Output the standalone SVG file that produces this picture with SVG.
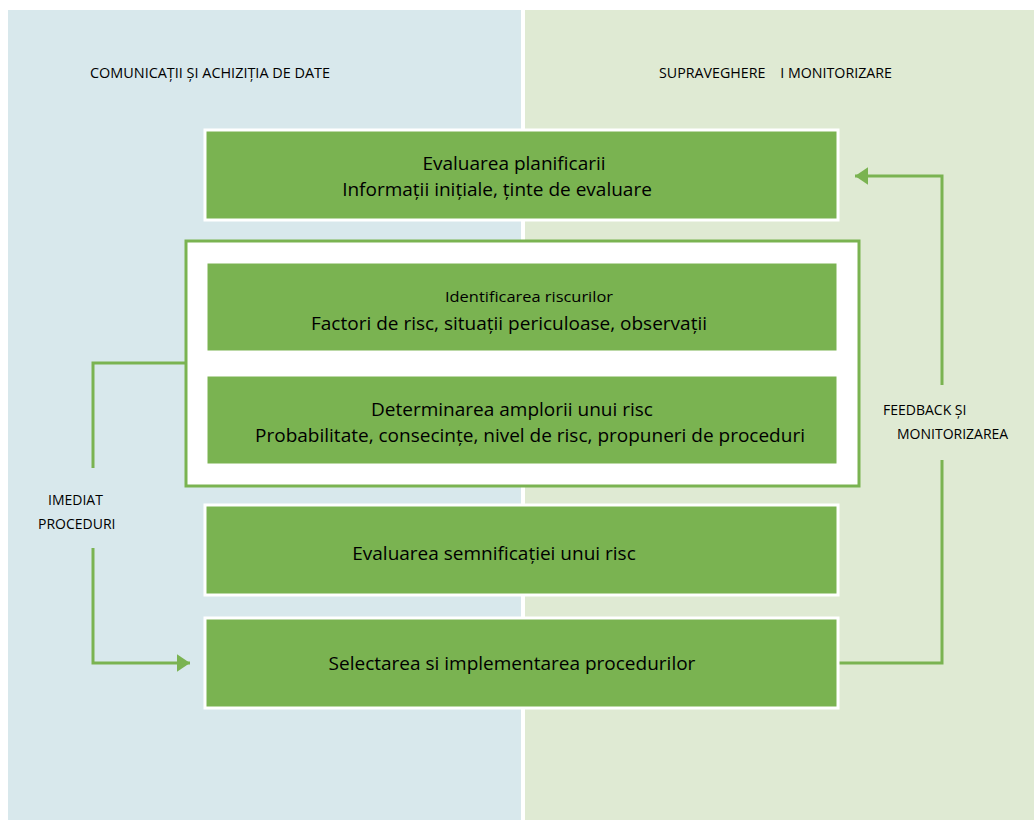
<svg xmlns="http://www.w3.org/2000/svg" width="1034" height="820" viewBox="0 0 1034 820">
<style>
.box{fill:#7ab351;stroke:#ffffff;stroke-width:3}
.t{font-family:"Open Sans","Noto Sans",sans-serif;fill:#000;text-anchor:middle}
.b{font-size:19px}
.s{font-size:14px}
.lbl{font-family:"Open Sans","Noto Sans",sans-serif;fill:#000;font-size:14px}
.conn{fill:none;stroke:#7ab351;stroke-width:3}
</style>
<defs>
<marker id="ah" viewBox="0 0 10 10" refX="10" refY="5" markerWidth="4.4" markerHeight="6" orient="auto" markerUnits="strokeWidth" preserveAspectRatio="none">
<path d="M0,0 L10,5 L0,10 z" fill="#7ab351"/>
</marker>
</defs>
<rect x="0" y="0" width="1034" height="820" fill="#ffffff"/>
<rect x="8" y="10" width="513" height="810" fill="#d8e8ec"/>
<rect x="525" y="10" width="509" height="810" fill="#dfead3"/>
<text class="lbl" x="90" y="78" textLength="240" lengthAdjust="spacingAndGlyphs">COMUNICAȚII ȘI ACHIZIȚIA DE DATE</text>
<text class="lbl" x="659" y="78" xml:space="preserve" textLength="233" lengthAdjust="spacingAndGlyphs">SUPRAVEGHERE    I MONITORIZARE</text>

<g id="frame">
<rect x="186" y="241" width="673" height="245" fill="#ffffff" stroke="#7ab351" stroke-width="3"/>
</g>

<g id="connectors">
<polyline class="conn" points="186,363 93,363 93,468"/>
<polyline class="conn" points="93,548 93,663 190,663" marker-end="url(#ah)"/>
<polyline class="conn" points="838,663 942,663 942,460"/>
<polyline class="conn" points="942,385 942,176 855,176" marker-end="url(#ah)"/>
</g>

<g id="n1">
<rect class="box" x="205" y="130" width="633" height="90"/>
<text class="t b" x="514" y="170">Evaluarea planificarii</text>
<text class="t b" x="497" y="196">Informații inițiale, ținte de evaluare</text>
</g>
<g id="n2">
<rect class="box" x="206" y="262" width="632" height="90" stroke-width="1"/>
<text class="t s" x="529" y="302" textLength="168" lengthAdjust="spacingAndGlyphs">Identificarea riscurilor</text>
<text class="t b" x="509" y="330">Factori de risc, situații periculoase, observații</text>
</g>
<g id="n3">
<rect class="box" x="206" y="375" width="632" height="90" stroke-width="1"/>
<text class="t b" x="512" y="416">Determinarea amplorii unui risc</text>
<text class="t b" x="530" y="442">Probabilitate, consecințe, nivel de risc, propuneri de proceduri</text>
</g>
<g id="n4">
<rect class="box" x="205" y="505" width="633" height="90"/>
<text class="t b" x="494" y="560">Evaluarea semnificației unui risc</text>
</g>
<g id="n5">
<rect class="box" x="205" y="618" width="633" height="90"/>
<text class="t b" x="512" y="670">Selectarea si implementarea procedurilor</text>
</g>

<text class="lbl" x="48" y="505">IMEDIAT</text>
<text class="lbl" x="38" y="529">PROCEDURI</text>
<text class="lbl" x="883" y="415">FEEDBACK ȘI</text>
<text class="lbl" x="897" y="439">MONITORIZAREA</text>
</svg>
